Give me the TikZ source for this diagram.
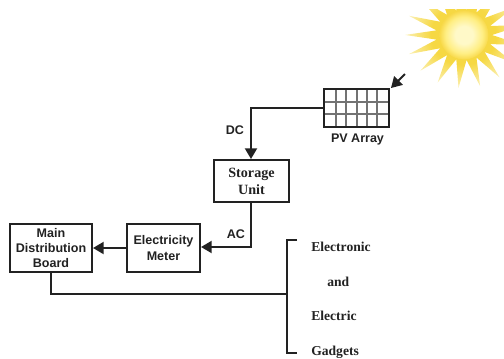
\documentclass[tikz,border=0pt]{standalone}
\usepackage{fontspec}
\setmainfont{Liberation Serif}
\setsansfont{Liberation Sans}
\usetikzlibrary{arrows.meta}
\definecolor{raygold}{HTML}{F6D843}
\definecolor{raypale}{HTML}{FBF0B4}
\definecolor{disccore}{HTML}{FFF9C8}
\definecolor{discmid}{HTML}{FFEE82}
\definecolor{discrim}{HTML}{F8D94A}
\definecolor{lineblack}{HTML}{222222}
\pgfdeclareradialshading{sunray}{\pgfpoint{0bp}{0bp}}{%
 color(0bp)=(raygold); color(14bp)=(raygold); color(25bp)=(raypale); color(50bp)=(raypale)}
\pgfdeclareradialshading{sundisc}{\pgfpoint{0bp}{0bp}}{%
 color(0bp)=(disccore); color(9bp)=(disccore); color(19bp)=(discmid); color(25bp)=(discrim); color(50bp)=(discrim)}
\tikzset{
 x=0.75pt,y=-0.75pt,
 block/.style={draw=lineblack,line width=1.5pt,fill=white,inner sep=0pt,align=center,font=\sffamily\bfseries\fontsize{9.4}{11.4}\selectfont,text=lineblack},
 serifblock/.style={block,font=\rmfamily\bfseries\fontsize{10.6}{12.8}\selectfont},
 wire/.style={draw=lineblack,line width=1.5pt},
 flow/.style={wire,-{Triangle[length=8pt,width=9pt]}},
 tag/.style={inner sep=0pt,font=\sffamily\bfseries\fontsize{9.4}{10}\selectfont,text=lineblack},
 gadget/.style={inner sep=0pt,anchor=base west,font=\rmfamily\bfseries\fontsize{10.2}{11}\selectfont,text=lineblack},
 cell/.style={draw=black!55,line width=1pt}
}
\begin{document}
\begin{tikzpicture}
\useasboundingbox (0,0) rectangle (504,358);
% sun
\begin{scope}
\clip (380,9) rectangle (504,100);
\begin{scope}[shift={(464,35)}]
\begin{scope}[yscale=0.9]
\shade[shading=sunray] (190.6:28)
 \foreach \i in {1,...,17}{
   -- ({180+\i*21.18}:59) -- ({190.6+\i*21.18}:28)
 } -- cycle;
\end{scope}
\shade[shading=sundisc] (0,0) circle[x radius=24.5,y radius=24.5];
\end{scope}
\end{scope}
% PV array
\node[block,minimum width=48.4pt,minimum height=28.5pt] (pv) at (356.5,108) {};
\foreach \px in {336,346,357,367,377}{ \draw[cell] (\px,90) -- (\px,126); }
\foreach \py in {102,114}{ \draw[cell] (325,\py) -- (388,\py); }
\node[tag] (pvlabel) at (357.5,139.5) {PV Array};
\coordinate (rayfrom) at (405,74);
\coordinate (rayto) at (391,88);
\draw[flow] (rayfrom) -- (rayto);
% blocks
\node[serifblock,minimum width=56.2pt,minimum height=31.5pt] (storage) at (251.5,181) {Storage\\Unit};
\node[block,minimum width=54.8pt,minimum height=36pt] (meter) at (163.5,248) {Electricity\\Meter};
\node[block,minimum width=61.5pt,minimum height=36pt] (board) at (51,248) {Main\\Distribution\\Board};
% connectors
\coordinate (dccorner) at (251,108);
\coordinate (accorner) at (251,247);
\draw[flow] (pv.west |- dccorner) -- (dccorner) -- (dccorner |- storage.north);
\draw[flow] (accorner |- storage.south) -- (accorner) -- (meter.east |- accorner);
\draw[flow] (meter.west) -- (board.east);
\node[tag] (dc) at (235,130) {DC};
\node[tag] (ac) at (236,234) {AC};
% bracket
\coordinate (brtop) at (297,240);
\coordinate (brtopin) at (287,240);
\coordinate (brbot) at (297,353);
\coordinate (brbotin) at (287,353);
\coordinate (busjoin) at (287,294);
\coordinate (buscorner) at (51,294);
\draw[wire] (brtop) -- (brtopin) -- (brbotin) -- (brbot);
\draw[wire] (board.south -| buscorner) -- (buscorner) -- (busjoin);
\node[gadget] (g1) at (311,251) {Electronic};
\node[gadget] (g2) at (327,286) {and};
\node[gadget] (g3) at (311,320) {Electric};
\node[gadget] (g4) at (311,355) {Gadgets};
\end{tikzpicture}
\end{document}
